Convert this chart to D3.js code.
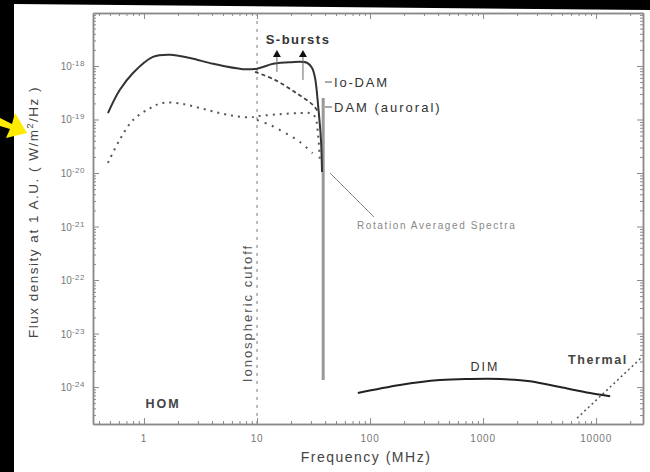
<!DOCTYPE html>
<html>
<head>
<meta charset="utf-8">
<script src="https://cdn.jsdelivr.net/npm/d3@7"></script>
<style>
  body { margin: 0; background: #000; }
  svg { display: block; font-family: "Liberation Sans", Arial, sans-serif; }
</style>
</head>
<body>
<svg width="650" height="472"></svg>
<script>
// frequency in MHz, flux as log10(W/m^2/Hz)
const mainFreq = [0.48, 0.61, 0.80, 1.2, 1.7, 2.55, 4.1, 7.5, 10, 13.9, 19.6, 27.7, 30.7, 32.6, 34.7, 36.8, 37.6];
const mainFlux = [-18.88, -18.45, -18.13, -17.83, -17.79, -17.85, -17.96, -18.06, -18.05, -17.96, -17.93, -17.94, -18.04, -18.22, -18.73, -19.38, -19.98];

const auroralFreq = [9.6, 14.4, 21.7, 31.3, 34.5];
const auroralFlux = [-18.11, -18.26, -18.49, -18.73, -18.85];

const avgFreq = [0.48, 0.61, 0.80, 1.13, 1.47, 2.21, 3.6, 5.76, 8.7, 10, 16, 24, 29.4, 32.6, 34.7, 36];
const avgFlux = [-19.81, -19.38, -19.01, -18.79, -18.69, -18.71, -18.82, -18.92, -18.96, -18.94, -18.90, -18.88, -18.88, -18.95, -19.29, -19.79];

const avgAuroralFreq = [10, 13, 17.7, 24, 31];
const avgAuroralFlux = [-19.01, -19.10, -19.25, -19.42, -19.63];

const cutoffFreq = 38.5;
const cutoffFlux = [-18.6, -23.87];

const dimFreq = [78, 184, 416, 767, 1413, 2600, 4800, 8850, 13300];
const dimFlux = [-24.11, -23.96, -23.87, -23.85, -23.85, -23.89, -24.0, -24.11, -24.17];

const thermalFreq = [6790, 25500];
const thermalFlux = [-24.58, -23.44];

const sBurstFreq = [15, 25.5];
const sBurstTail = [-18.11, -18.26];
const sBurstTip = -17.70;

const xTicks = [1, 10, 100, 1000, 10000];
const yTicks = [-18, -19, -20, -21, -22, -23, -24];

const svg = d3.select("svg");
const W = 650, H = 472;
const mLeft = 93, mRight = 643, mTop = 13, mBottom = 424;

// photo frame: white page with black edges
svg.append("rect").attr("width", W).attr("height", H).attr("fill", "#000");
svg.append("path")
  .attr("d", "M14,4 L650,10 L650,472 L14,472 Z")
  .attr("fill", "#fff");

const x = d3.scaleLog().domain([0.354, 26000]).range([mLeft, mRight]);
const y = d3.scaleLinear().domain([-24.69, -17.01]).range([mBottom, mTop]);

const pts = (fs, vs) => fs.map((f, i) => [f, vs[i]]);
const line = d3.line().x(d => x(d[0])).y(d => y(d[1])).curve(d3.curveCatmullRom.alpha(0.5));

// minor tick values
const xMinor = [];
for (let e = -1; e <= 4; e++) for (let k = 2; k <= 9; k++) {
  const v = k * Math.pow(10, e);
  if (v > 0.354 && v < 26000) xMinor.push(v);
}
const yMinor = [];
for (let e = -25; e <= -18; e++) for (let k = 2; k <= 9; k++) {
  const v = e + Math.log10(k);
  if (v > -24.69 && v < -17.01) yMinor.push(v);
}

const axisColor = "#8a8a8a";
function styleAxis(g) {
  g.select(".domain").attr("stroke", axisColor).attr("stroke-width", 1.5);
  g.selectAll(".tick line").attr("stroke", axisColor).attr("stroke-width", 1);
  g.selectAll(".tick text").remove();
}

svg.append("g").attr("transform", `translate(0,${mBottom})`)
  .call(d3.axisBottom(x).tickValues(xTicks).tickSize(-6).tickSizeOuter(0)).call(styleAxis);
svg.append("g").attr("transform", `translate(0,${mBottom})`)
  .call(d3.axisBottom(x).tickValues(xMinor).tickSize(-3).tickSizeOuter(0)).call(styleAxis);
svg.append("g").attr("transform", `translate(0,${mTop})`)
  .call(d3.axisTop(x).tickValues(xTicks).tickSize(-6).tickSizeOuter(0)).call(styleAxis);
svg.append("g").attr("transform", `translate(0,${mTop})`)
  .call(d3.axisTop(x).tickValues(xMinor).tickSize(-3).tickSizeOuter(0)).call(styleAxis);
svg.append("g").attr("transform", `translate(${mLeft},0)`)
  .call(d3.axisLeft(y).tickValues(yTicks).tickSize(-6).tickSizeOuter(0)).call(styleAxis);
svg.append("g").attr("transform", `translate(${mLeft},0)`)
  .call(d3.axisLeft(y).tickValues(yMinor).tickSize(-3).tickSizeOuter(0)).call(styleAxis);
svg.append("g").attr("transform", `translate(${mRight},0)`)
  .call(d3.axisRight(y).tickValues(yTicks).tickSize(-6).tickSizeOuter(0)).call(styleAxis);
svg.append("g").attr("transform", `translate(${mRight},0)`)
  .call(d3.axisRight(y).tickValues(yMinor).tickSize(-3).tickSizeOuter(0)).call(styleAxis);

// tick labels
svg.append("g").selectAll("text").data(xTicks).join("text")
  .attr("x", d => x(d)).attr("y", mBottom + 18)
  .attr("text-anchor", "middle").attr("font-size", 10).attr("letter-spacing", 0.8)
  .attr("fill", "#777")
  .text(d => d);

const yl = svg.append("g").selectAll("text").data(yTicks).join("text")
  .attr("x", mLeft - 8).attr("y", d => y(d) + 4)
  .attr("text-anchor", "end").attr("font-size", 10).attr("fill", "#777");
yl.append("tspan").text("10");
yl.append("tspan").attr("dy", -4).attr("font-size", 8).attr("letter-spacing", 0.5).text(d => d);

// axis titles
svg.append("text")
  .attr("x", 366).attr("y", 462)
  .attr("text-anchor", "middle").attr("font-size", 14).attr("letter-spacing", 1.5).attr("fill", "#444")
  .text("Frequency  (MHz)");
const yt = svg.append("text")
  .attr("transform", "translate(38,212) rotate(-90)")
  .attr("text-anchor", "middle").attr("font-size", 13.5).attr("letter-spacing", 1.5).attr("fill", "#444");
yt.append("tspan").text("Flux density at 1 A.U.  ( W/m");
yt.append("tspan").attr("dy", -5).attr("font-size", 9).text("2");
yt.append("tspan").attr("dy", 5).text("/Hz )");

// ionospheric cutoff
svg.append("line")
  .attr("x1", x(10)).attr("x2", x(10)).attr("y1", mTop).attr("y2", mBottom)
  .attr("stroke", "#999").attr("stroke-width", 1.3).attr("stroke-dasharray", "3,5");
svg.append("text")
  .attr("transform", `translate(${x(10) - 5},313) rotate(-90)`)
  .attr("text-anchor", "middle").attr("font-size", 13).attr("letter-spacing", 2).attr("fill", "#555")
  .text("Ionospheric cutoff");

// rotation averaged (dotted) curves
svg.append("path").datum(pts(avgFreq, avgFlux))
  .attr("d", line).attr("fill", "none")
  .attr("stroke", "#555").attr("stroke-width", 2).attr("stroke-dasharray", "2,5");
svg.append("path").datum(pts(avgAuroralFreq, avgAuroralFlux))
  .attr("d", line).attr("fill", "none")
  .attr("stroke", "#555").attr("stroke-width", 2).attr("stroke-dasharray", "2,6");

// cutoff edge (thick grey)
svg.append("line")
  .attr("x1", x(cutoffFreq)).attr("x2", x(cutoffFreq))
  .attr("y1", y(cutoffFlux[0])).attr("y2", y(cutoffFlux[1]))
  .attr("stroke", "#999").attr("stroke-width", 3);

// DAM auroral dashed
svg.append("path").datum(pts(auroralFreq, auroralFlux))
  .attr("d", line).attr("fill", "none")
  .attr("stroke", "#444").attr("stroke-width", 1.8).attr("stroke-dasharray", "4,3");

// main solid curve (HOM + Io-DAM)
svg.append("path").datum(pts(mainFreq, mainFlux))
  .attr("d", line).attr("fill", "none")
  .attr("stroke", "#333").attr("stroke-width", 2);

// DIM
svg.append("path").datum(pts(dimFreq, dimFlux))
  .attr("d", line).attr("fill", "none")
  .attr("stroke", "#222").attr("stroke-width", 2);

// Thermal
svg.append("path").datum(pts(thermalFreq, thermalFlux))
  .attr("d", d3.line().x(d => x(d[0])).y(d => y(d[1])))
  .attr("fill", "none")
  .attr("stroke", "#555").attr("stroke-width", 1.5).attr("stroke-dasharray", "2,3");

// S-burst arrows
sBurstFreq.forEach((f, i) => {
  const cx = x(f), ty = y(sBurstTip);
  svg.append("line")
    .attr("x1", cx).attr("x2", cx).attr("y1", ty + 6).attr("y2", y(sBurstTail[i]))
    .attr("stroke", "#666").attr("stroke-width", 1);
  svg.append("path")
    .attr("d", `M${cx},${ty} L${cx - 4},${ty + 7} L${cx + 4},${ty + 7} Z`)
    .attr("fill", "#111");
});
svg.append("text")
  .attr("x", 298).attr("y", 44)
  .attr("text-anchor", "middle").attr("font-size", 13).attr("font-weight", "bold")
  .attr("letter-spacing", 1.5).attr("fill", "#333")
  .text("S-bursts");

// labels with leaders
svg.append("line").attr("x1", 325).attr("x2", 332).attr("y1", 82).attr("y2", 82)
  .attr("stroke", "#555").attr("stroke-width", 1);
svg.append("text").attr("x", 334).attr("y", 87)
  .attr("font-size", 13).attr("letter-spacing", 1.8).attr("fill", "#333").text("Io-DAM");
svg.append("line").attr("x1", 325).attr("x2", 332).attr("y1", 107).attr("y2", 107)
  .attr("stroke", "#555").attr("stroke-width", 1);
svg.append("text").attr("x", 334).attr("y", 112)
  .attr("font-size", 13).attr("letter-spacing", 2).attr("fill", "#333").text("DAM (auroral)");
svg.append("line").attr("x1", 330).attr("x2", 374).attr("y1", 173).attr("y2", 217)
  .attr("stroke", "#888").attr("stroke-width", 1);
svg.append("text").attr("x", 357).attr("y", 229)
  .attr("font-size", 10).attr("letter-spacing", 1.6).attr("fill", "#888").text("Rotation Averaged Spectra");

svg.append("text").attr("x", 163).attr("y", 408)
  .attr("text-anchor", "middle").attr("font-size", 12.5).attr("font-weight", "bold")
  .attr("letter-spacing", 2).attr("fill", "#444").text("HOM");
svg.append("text").attr("x", 485).attr("y", 371)
  .attr("text-anchor", "middle").attr("font-size", 12.5).attr("letter-spacing", 2)
  .attr("fill", "#333").text("DIM");
svg.append("text").attr("x", 598).attr("y", 364)
  .attr("text-anchor", "middle").attr("font-size", 12.5).attr("font-weight", "bold")
  .attr("letter-spacing", 1.6).attr("fill", "#444").text("Thermal");

// yellow pointer arrow at the left edge
svg.append("path")
  .attr("d", "M0,118 L12,124 L15,113 L27,133 L6,138 L10,129 L0,126 Z")
  .attr("fill", "#ffea00");
</script>
</body>
</html>
